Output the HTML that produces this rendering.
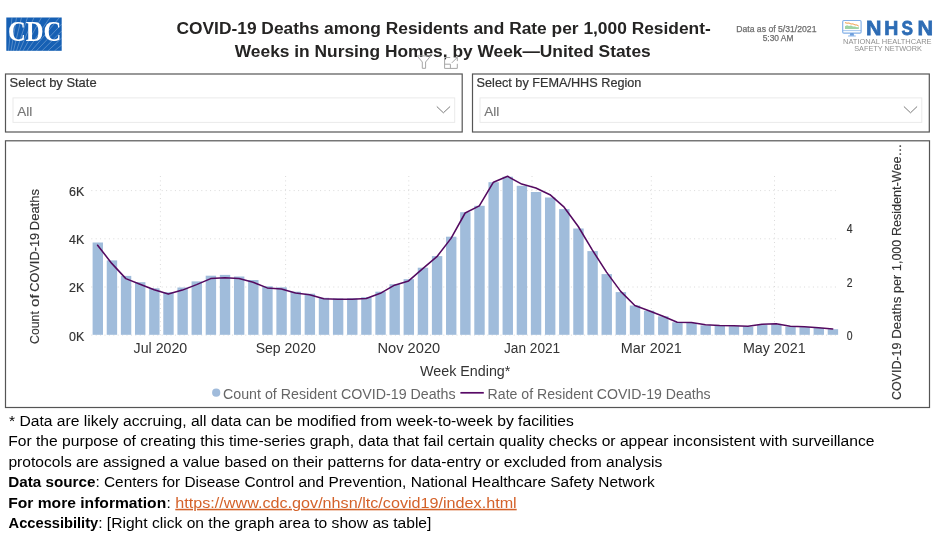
<!DOCTYPE html>
<html lang="en"><head><meta charset="utf-8">
<title>COVID-19 Deaths among Residents and Rate per 1,000 Resident-Weeks in Nursing Homes, by Week - United States</title>
<style>
html,body{margin:0;padding:0;background:#fff;}
body{width:936px;height:544px;overflow:hidden;font-family:"Liberation Sans", sans-serif;}
svg{display:block;}
svg text{font-family:"Liberation Sans", sans-serif;}
</style></head><body>
<svg width="936" height="544" viewBox="0 0 936 544">
<rect x="0" y="0" width="936" height="544" fill="#ffffff"/>
<g id="cdc-logo">
<rect x="6.3" y="17.5" width="55.4" height="33.3" fill="#1660b4"/>
<g stroke="#ffffff" stroke-width="0.5" opacity="0.55" fill="none">
<line x1="8.5" y1="50.8" x2="12.0" y2="17.5"/>
<line x1="11.0" y1="50.8" x2="16.5" y2="17.5"/>
<line x1="13.5" y1="50.8" x2="21.5" y2="17.5"/>
<line x1="16.5" y1="50.8" x2="27.5" y2="17.5"/>
<line x1="19.5" y1="50.8" x2="34.0" y2="17.5"/>
<line x1="23.0" y1="50.8" x2="41.5" y2="17.5"/>
<line x1="27.0" y1="50.8" x2="50.0" y2="17.5"/>
<line x1="31.5" y1="50.8" x2="59.5" y2="17.5"/>
<line x1="36.5" y1="50.8" x2="61.7" y2="24.0"/>
<line x1="42.0" y1="50.8" x2="61.7" y2="31.0"/>
<line x1="48.0" y1="50.8" x2="61.7" y2="38.0"/>
<line x1="54.5" y1="50.8" x2="61.7" y2="45.0"/>
</g>
<text x="7.9" y="40.5" font-size="28.6" fill="#ffffff" textLength="53.5" lengthAdjust="spacingAndGlyphs" font-weight="bold" style='font-family:"Liberation Serif", serif'>CDC</text>
</g>
<g id="title">
<text x="176.5" y="34" font-size="17.2" fill="#252423" textLength="534.2" lengthAdjust="spacingAndGlyphs" font-weight="bold">COVID-19 Deaths among Residents and Rate per 1,000 Resident-</text>
<text x="234.8" y="56.8" font-size="17.2" fill="#252423" textLength="415.9" lengthAdjust="spacingAndGlyphs" font-weight="bold">Weeks in Nursing Homes, by Week—United States</text>
</g>
<g id="asof">
<text x="736.2" y="31.5" font-size="8.4" fill="#6e6e6e" textLength="80.3" lengthAdjust="spacingAndGlyphs" stroke="#6e6e6e" stroke-width="0.25">Data as of 5/31/2021</text>
<text x="762.7" y="40.7" font-size="8.4" fill="#6e6e6e" textLength="30.7" lengthAdjust="spacingAndGlyphs" stroke="#6e6e6e" stroke-width="0.25">5:30 AM</text>
</g>
<g id="nhsn-logo">
<rect x="842.7" y="20.5" width="18.4" height="12.6" rx="1.2" fill="#ffffff" stroke="#82b0e8" stroke-width="1.15"/>
<line x1="842.7" y1="30.6" x2="861.1" y2="30.6" stroke="#82b0e8" stroke-width="0.7"/>
<path d="M850.3 33.1 L849.6 35.8 L854.2 35.8 L853.5 33.1 Z" fill="#6f9fdc"/>
<line x1="848.0" y1="36.0" x2="855.8" y2="36.0" stroke="#82b0e8" stroke-width="0.9"/>
<path d="M845 26.2 L847 25.3 L849 26.0 L851 25.6 L853 26.6 L855 26.4 L857 27.2 L858.8 27.0 L858.8 29.0 L845 29.0 Z" fill="#9fd3a4"/>
<path d="M845 22.6 L847 23.2 L849 23.0 L851 24.0 L853 23.9 L855 24.9 L857 25.0 L858.8 26.2" fill="none" stroke="#f2a04a" stroke-width="1"/>
<g transform="translate(873.85 35.0) scale(1.02 1)">
<text x="0" y="0" font-size="21" fill="#2d6cb5" font-weight="bold" text-anchor="middle" stroke="#2d6cb5" stroke-width="0.75">N</text>
</g>
<g transform="translate(891.25 35.0) scale(0.93 1)">
<text x="0" y="0" font-size="21" fill="#2d6cb5" font-weight="bold" text-anchor="middle" stroke="#2d6cb5" stroke-width="0.75">H</text>
</g>
<g transform="translate(907.3 35.0) scale(0.82 1)">
<text x="0" y="0" font-size="21" fill="#2d6cb5" font-weight="bold" text-anchor="middle" stroke="#2d6cb5" stroke-width="0.75">S</text>
</g>
<g transform="translate(925.25 35.0) scale(1.03 1)">
<text x="0" y="0" font-size="21" fill="#2d6cb5" font-weight="bold" text-anchor="middle" stroke="#2d6cb5" stroke-width="0.75">N</text>
</g>
<text x="843.0" y="44.0" font-size="7.0" fill="#909090" textLength="88.6" lengthAdjust="spacingAndGlyphs">NATIONAL HEALTHCARE</text>
<text x="854.2" y="50.7" font-size="7.0" fill="#909090" textLength="67.8" lengthAdjust="spacingAndGlyphs">SAFETY NETWORK</text>
</g>
<g id="visual-icons" fill="none" stroke="#a6a6a6" stroke-width="1">
<path d="M417.2 55.9 L430.7 55.9 L425.6 62.0 L425.6 68.3 L422.3 68.3 L422.3 62.0 Z"/>
<path d="M450.2 57.5 L444.6 57.5 L444.6 68.4 L457.3 68.4 L457.3 63.8"/>
<path d="M444.6 64.2 L450.4 64.2 L450.4 68.4"/>
<path d="M451.8 62.9 L457.3 57.4 M453.6 57.4 L457.3 57.4 L457.3 61.1"/>
</g>
<g id="slicers">
<rect x="5.5" y="74.0" width="456.7" height="58.0" fill="#ffffff" stroke="#555555" stroke-width="1.2"/>
<text x="9.6" y="86.8" font-size="12.6" fill="#333333" textLength="87.0" lengthAdjust="spacingAndGlyphs" stroke="#333333" stroke-width="0.2">Select by State</text>
<rect x="13.0" y="97.9" width="441.7" height="24.5" fill="#ffffff" stroke="#eaeaea" stroke-width="1"/>
<text x="17.3" y="116.4" font-size="12.9" fill="#777777" textLength="15.0" lengthAdjust="spacingAndGlyphs" stroke="#777777" stroke-width="0.15">All</text>
<path d="M436.8 106.5 L443.4 112.8 L450.1 106.5" fill="none" stroke="#7a7a7a" stroke-width="1"/>
<rect x="472.5" y="74.0" width="456.8" height="58.0" fill="#ffffff" stroke="#555555" stroke-width="1.2"/>
<text x="476.6" y="86.8" font-size="12.6" fill="#333333" textLength="164.8" lengthAdjust="spacingAndGlyphs" stroke="#333333" stroke-width="0.2">Select by FEMA/HHS Region</text>
<rect x="480.0" y="97.9" width="441.8" height="24.5" fill="#ffffff" stroke="#eaeaea" stroke-width="1"/>
<text x="484.3" y="116.4" font-size="12.9" fill="#777777" textLength="15.0" lengthAdjust="spacingAndGlyphs" stroke="#777777" stroke-width="0.15">All</text>
<path d="M903.9 106.5 L910.5 112.8 L917.1 106.5" fill="none" stroke="#7a7a7a" stroke-width="1"/>
</g>
<g id="chart">
<rect x="5.5" y="140.8" width="924.0" height="266.7" fill="#ffffff" stroke="#555555" stroke-width="1.2"/>
<g stroke="#dadada" stroke-width="1" stroke-dasharray="1 3.4" fill="none">
<line x1="91.3" y1="190.6" x2="838.3" y2="190.6"/>
<line x1="91.3" y1="238.8" x2="838.3" y2="238.8"/>
<line x1="91.3" y1="287.0" x2="838.3" y2="287.0"/>
<line x1="91.3" y1="335.1" x2="838.3" y2="335.1"/>
<line x1="160.4" y1="176" x2="160.4" y2="335.1"/>
<line x1="285.6" y1="176" x2="285.6" y2="335.1"/>
<line x1="408.8" y1="176" x2="408.8" y2="335.1"/>
<line x1="532.0" y1="176" x2="532.0" y2="335.1"/>
<line x1="651.3" y1="176" x2="651.3" y2="335.1"/>
<line x1="774.5" y1="176" x2="774.5" y2="335.1"/>
</g>
<g fill="#a0bcdb">
<rect x="92.6" y="242.5" width="10.4" height="92.3"/>
<rect x="106.74" y="260.4" width="10.4" height="74.4"/>
<rect x="120.87" y="275.9" width="10.4" height="58.9"/>
<rect x="135.01" y="282.2" width="10.4" height="52.6"/>
<rect x="149.15" y="288.3" width="10.4" height="46.5"/>
<rect x="163.28" y="292.3" width="10.4" height="42.5"/>
<rect x="177.42" y="287.5" width="10.4" height="47.3"/>
<rect x="191.56" y="281.4" width="10.4" height="53.4"/>
<rect x="205.7" y="275.7" width="10.4" height="59.1"/>
<rect x="219.83" y="274.9" width="10.4" height="59.9"/>
<rect x="233.97" y="276.5" width="10.4" height="58.3"/>
<rect x="248.11" y="280.0" width="10.4" height="54.8"/>
<rect x="262.24" y="286.3" width="10.4" height="48.5"/>
<rect x="276.38" y="287.3" width="10.4" height="47.5"/>
<rect x="290.52" y="291.7" width="10.4" height="43.1"/>
<rect x="304.65" y="293.7" width="10.4" height="41.1"/>
<rect x="318.79" y="297.8" width="10.4" height="37.0"/>
<rect x="332.93" y="298.4" width="10.4" height="36.4"/>
<rect x="347.07" y="298.2" width="10.4" height="36.6"/>
<rect x="361.2" y="297.2" width="10.4" height="37.6"/>
<rect x="375.34" y="291.7" width="10.4" height="43.1"/>
<rect x="389.48" y="284.2" width="10.4" height="50.6"/>
<rect x="403.61" y="279.2" width="10.4" height="55.6"/>
<rect x="417.75" y="267.7" width="10.4" height="67.1"/>
<rect x="431.89" y="256.1" width="10.4" height="78.7"/>
<rect x="446.02" y="236.7" width="10.4" height="98.1"/>
<rect x="460.16" y="212.2" width="10.4" height="122.6"/>
<rect x="474.3" y="205.8" width="10.4" height="129.0"/>
<rect x="488.44" y="182.2" width="10.4" height="152.6"/>
<rect x="502.57" y="176.7" width="10.4" height="158.1"/>
<rect x="516.71" y="185.8" width="10.4" height="149.0"/>
<rect x="530.85" y="192.0" width="10.4" height="142.8"/>
<rect x="544.98" y="197.5" width="10.4" height="137.3"/>
<rect x="559.12" y="209.1" width="10.4" height="125.7"/>
<rect x="573.26" y="228.5" width="10.4" height="106.3"/>
<rect x="587.39" y="251.1" width="10.4" height="83.7"/>
<rect x="601.53" y="274.1" width="10.4" height="60.7"/>
<rect x="615.67" y="292.1" width="10.4" height="42.7"/>
<rect x="629.81" y="305.5" width="10.4" height="29.3"/>
<rect x="643.94" y="310.7" width="10.4" height="24.1"/>
<rect x="658.08" y="316.3" width="10.4" height="18.5"/>
<rect x="672.22" y="322.3" width="10.4" height="12.5"/>
<rect x="686.35" y="323.0" width="10.4" height="11.8"/>
<rect x="700.49" y="325.3" width="10.4" height="9.5"/>
<rect x="714.63" y="325.9" width="10.4" height="8.9"/>
<rect x="728.76" y="326.2" width="10.4" height="8.6"/>
<rect x="742.9" y="326.7" width="10.4" height="8.1"/>
<rect x="757.04" y="325.0" width="10.4" height="9.8"/>
<rect x="771.18" y="324.2" width="10.4" height="10.6"/>
<rect x="785.31" y="326.7" width="10.4" height="8.1"/>
<rect x="799.45" y="327.2" width="10.4" height="7.6"/>
<rect x="813.59" y="328.0" width="10.4" height="6.8"/>
<rect x="827.72" y="329.2" width="10.4" height="5.6"/>
</g>
<polyline points="97.6,245.2 111.74,263.4 125.87,278.6 140.01,284.2 154.15,289.7 168.28,294.1 182.42,290.1 196.56,284.6 210.7,278.6 224.83,277.8 238.97,278.6 253.11,282.2 267.24,287.9 281.38,289.1 295.52,293.1 309.65,294.8 323.79,298.8 337.93,299.2 352.07,299.2 366.2,298.4 380.34,293.3 394.48,285.2 408.61,280.9 422.75,268.6 436.89,256.7 451.02,238.4 465.16,213.0 479.3,205.9 493.44,182.2 507.57,176.3 521.71,184.1 535.85,188.0 549.98,194.7 564.12,207.2 578.26,226.5 592.39,250.1 606.53,272.1 620.67,291.4 634.81,305.5 648.94,310.7 663.08,316.3 677.22,322.3 691.35,322.5 705.49,324.8 719.63,325.5 733.76,325.7 747.9,326.2 762.04,324.3 776.18,323.7 790.31,326.3 804.45,326.7 818.59,327.7 832.72,329.0" fill="none" stroke="#540a60" stroke-width="1.55" stroke-linejoin="round" stroke-linecap="round"/>
<text x="69.0" y="196.0" font-size="13.5" fill="#333333" textLength="15.2" lengthAdjust="spacingAndGlyphs" stroke="#333333" stroke-width="0.2">6K</text>
<text x="69.0" y="244.2" font-size="13.5" fill="#333333" textLength="15.2" lengthAdjust="spacingAndGlyphs" stroke="#333333" stroke-width="0.2">4K</text>
<text x="69.0" y="292.4" font-size="13.5" fill="#333333" textLength="15.2" lengthAdjust="spacingAndGlyphs" stroke="#333333" stroke-width="0.2">2K</text>
<text x="69.0" y="340.5" font-size="13.5" fill="#333333" textLength="15.2" lengthAdjust="spacingAndGlyphs" stroke="#333333" stroke-width="0.2">0K</text>
<text x="846.7" y="233.2" font-size="13.0" fill="#333333" textLength="5.8" lengthAdjust="spacingAndGlyphs" stroke="#333333" stroke-width="0.2">4</text>
<text x="846.7" y="286.7" font-size="13.0" fill="#333333" textLength="5.8" lengthAdjust="spacingAndGlyphs" stroke="#333333" stroke-width="0.2">2</text>
<text x="846.7" y="340.3" font-size="13.0" fill="#333333" textLength="5.8" lengthAdjust="spacingAndGlyphs" stroke="#333333" stroke-width="0.2">0</text>
<text x="133.6" y="352.8" font-size="14.9" fill="#333333" textLength="53.6" lengthAdjust="spacingAndGlyphs">Jul 2020</text>
<text x="255.7" y="352.8" font-size="14.9" fill="#333333" textLength="60.1" lengthAdjust="spacingAndGlyphs">Sep 2020</text>
<text x="377.5" y="352.8" font-size="14.9" fill="#333333" textLength="62.7" lengthAdjust="spacingAndGlyphs">Nov 2020</text>
<text x="504.0" y="352.8" font-size="14.9" fill="#333333" textLength="56.2" lengthAdjust="spacingAndGlyphs">Jan 2021</text>
<text x="620.8" y="352.8" font-size="14.9" fill="#333333" textLength="61.0" lengthAdjust="spacingAndGlyphs">Mar 2021</text>
<text x="742.9" y="352.8" font-size="14.9" fill="#333333" textLength="62.7" lengthAdjust="spacingAndGlyphs">May 2021</text>
<text x="420.0" y="375.8" font-size="15.2" fill="#333333" textLength="90.4" lengthAdjust="spacingAndGlyphs">Week Ending*</text>
<g transform="translate(39.2 344) rotate(-90)">
<text x="0.1" y="0" font-size="13.6" fill="#333333" textLength="32.7" lengthAdjust="spacingAndGlyphs" stroke="#333333" stroke-width="0.15">Count</text>
<text x="37.1" y="0" font-size="13.6" fill="#333333" textLength="12.7" lengthAdjust="spacingAndGlyphs" stroke="#333333" stroke-width="0.15">of</text>
<text x="52.2" y="0" font-size="13.6" fill="#333333" textLength="58.9" lengthAdjust="spacingAndGlyphs" stroke="#333333" stroke-width="0.15">COVID-19</text>
<text x="113.8" y="0" font-size="13.6" fill="#333333" textLength="41.1" lengthAdjust="spacingAndGlyphs" stroke="#333333" stroke-width="0.15">Deaths</text>
</g>
<g transform="translate(900.9 399.8) rotate(-90)">
<text x="-0.3" y="0" font-size="13.6" fill="#333333" textLength="57.5" lengthAdjust="spacingAndGlyphs" stroke="#333333" stroke-width="0.15">COVID-19</text>
<text x="61.0" y="0" font-size="13.6" fill="#333333" textLength="42.1" lengthAdjust="spacingAndGlyphs" stroke="#333333" stroke-width="0.15">Deaths</text>
<text x="106.9" y="0" font-size="13.6" fill="#333333" textLength="18.0" lengthAdjust="spacingAndGlyphs" stroke="#333333" stroke-width="0.15">per</text>
<text x="128.9" y="0" font-size="13.6" fill="#333333" textLength="31.0" lengthAdjust="spacingAndGlyphs" stroke="#333333" stroke-width="0.15">1,000</text>
<text x="163.7" y="0" font-size="13.6" fill="#333333" textLength="92.2" lengthAdjust="spacingAndGlyphs" stroke="#333333" stroke-width="0.15">Resident-Wee…</text>
</g>
<circle cx="216.2" cy="392.7" r="4.1" fill="#a0bbdb"/>
<text x="223.0" y="398.7" font-size="15.1" fill="#666666" textLength="232.6" lengthAdjust="spacingAndGlyphs">Count of Resident COVID-19 Deaths</text>
<line x1="460.4" y1="392.8" x2="483.8" y2="392.8" stroke="#580a66" stroke-width="1.7"/>
<text x="487.6" y="398.7" font-size="15.1" fill="#666666" textLength="223.0" lengthAdjust="spacingAndGlyphs">Rate of Resident COVID-19 Deaths</text>
</g>
<g id="footnotes">
<text x="9.0" y="426.0" font-size="15.3" fill="#000000" textLength="564.8" lengthAdjust="spacingAndGlyphs">* Data are likely accruing, all data can be modified from week-to-week by facilities</text>
<text x="8.2" y="446.4" font-size="15.3" fill="#000000" textLength="866.3" lengthAdjust="spacingAndGlyphs">For the purpose of creating this time-series graph, data that fail certain quality checks or appear inconsistent with surveillance</text>
<text x="8.4" y="466.8" font-size="15.3" fill="#000000" textLength="654.0" lengthAdjust="spacingAndGlyphs">protocols are assigned a value based on their patterns for data-entry or excluded from analysis</text>
<text x="8.3" y="487.2" font-size="15.3" fill="#000000" textLength="87.2" lengthAdjust="spacingAndGlyphs" font-weight="bold">Data source</text>
<text x="95.4" y="487.2" font-size="15.3" fill="#000000" textLength="559.4" lengthAdjust="spacingAndGlyphs">: Centers for Disease Control and Prevention, National Healthcare Safety Network</text>
<text x="8.2" y="507.8" font-size="15.3" fill="#000000" textLength="158.0" lengthAdjust="spacingAndGlyphs" font-weight="bold">For more information</text>
<text x="166.6" y="507.8" font-size="15.3" fill="#000000">:</text>
<text x="175.3" y="507.8" font-size="15.3" fill="#d4622a" textLength="341.4" lengthAdjust="spacingAndGlyphs" text-decoration="underline">https://www.cdc.gov/nhsn/ltc/covid19/index.html</text>
<text x="8.6" y="528.2" font-size="15.3" fill="#000000" textLength="89.6" lengthAdjust="spacingAndGlyphs" font-weight="bold">Accessibility</text>
<text x="98.2" y="528.2" font-size="15.3" fill="#000000" textLength="333.2" lengthAdjust="spacingAndGlyphs">: [Right click on the graph area to show as table]</text>
</g>
</svg>
</body></html>
